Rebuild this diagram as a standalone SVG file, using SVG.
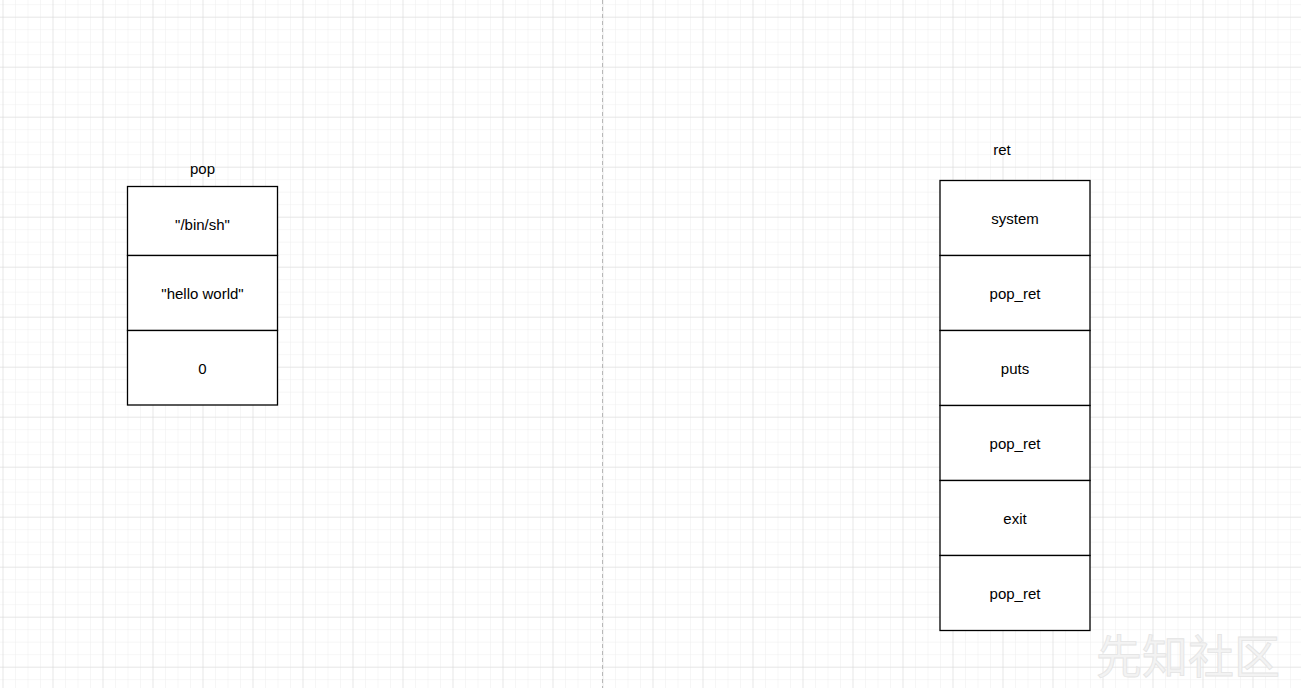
<svg xmlns="http://www.w3.org/2000/svg" width="1301" height="688" viewBox="0 0 1301 688">
<defs>
<pattern id="minor" x="2.5" y="4.2" width="12.5" height="12.5" patternUnits="userSpaceOnUse">
<path d="M0 0H12.5M0 0V12.5" fill="none" stroke="#eeeeee" stroke-width="1"/>
</pattern>
<pattern id="major" x="2.5" y="16.7" width="50" height="50" patternUnits="userSpaceOnUse">
<path d="M0 0H50M0 0V50" fill="none" stroke="#d9d9d9" stroke-width="1"/>
</pattern>
</defs>
<style>
.cell{fill:#ffffff;stroke:#000000;stroke-width:1.3}
.t{font-family:"Liberation Sans",Arial,sans-serif;font-size:15px;fill:#000000;text-anchor:middle;dominant-baseline:central}
.wm{font-family:"Noto Sans CJK SC",sans-serif;font-size:46px;fill:#f3f3f3;stroke:#e4e4e4;stroke-width:0.8}
</style>
<rect width="1301" height="688" fill="#ffffff"/>
<rect width="1301" height="688" fill="url(#minor)"/>
<rect width="1301" height="688" fill="url(#major)"/>
<line x1="602.5" y1="0" x2="602.5" y2="688" stroke="#b8b8b8" stroke-width="1" stroke-dasharray="4 3"/>
<g id="connectors"></g>
<g id="pop-label"><text class="t" x="202.5" y="168">pop</text></g>
<g id="pop-stack">
<g id="pop-1"><rect class="cell" x="127.5" y="186.5" width="150" height="69"/><text class="t" x="202.5" y="224">"/bin/sh"</text></g>
<g id="pop-2"><rect class="cell" x="127.5" y="255.5" width="150" height="75"/><text class="t" x="202.5" y="293">"hello world"</text></g>
<g id="pop-3"><rect class="cell" x="127.5" y="330.5" width="150" height="74.5"/><text class="t" x="202.5" y="368">0</text></g>
</g>
<g id="ret-label"><text class="t" x="1002" y="149">ret</text></g>
<g id="ret-stack">
<g id="ret-1"><rect class="cell" x="940" y="180.5" width="150" height="75"/><text class="t" x="1015" y="218">system</text></g>
<g id="ret-2"><rect class="cell" x="940" y="255.5" width="150" height="75"/><text class="t" x="1015" y="293">pop_ret</text></g>
<g id="ret-3"><rect class="cell" x="940" y="330.5" width="150" height="75"/><text class="t" x="1015" y="368">puts</text></g>
<g id="ret-4"><rect class="cell" x="940" y="405.5" width="150" height="75"/><text class="t" x="1015" y="443">pop_ret</text></g>
<g id="ret-5"><rect class="cell" x="940" y="480.5" width="150" height="75"/><text class="t" x="1015" y="518">exit</text></g>
<g id="ret-6"><rect class="cell" x="940" y="555.5" width="150" height="75"/><text class="t" x="1015" y="593">pop_ret</text></g>
</g>
<text class="wm" x="1096" y="673">先知社区</text>
</svg>
